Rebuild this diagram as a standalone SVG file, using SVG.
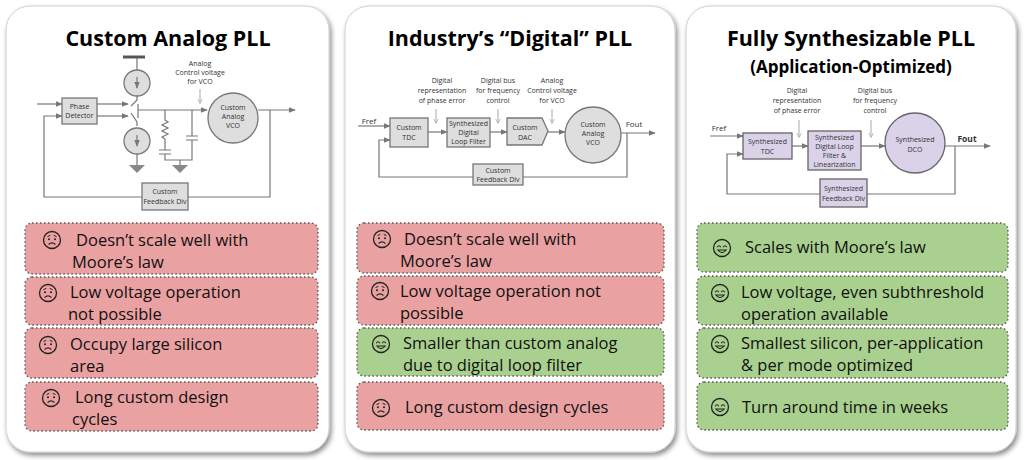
<svg xmlns="http://www.w3.org/2000/svg" width="1024" height="460" viewBox="0 0 1024 460">
<defs>
<filter id="sh" x="-5%" y="-5%" width="115%" height="115%"><feDropShadow dx="2" dy="3" stdDeviation="2.5" flood-color="#000" flood-opacity="0.45"/></filter>
<marker id="ar" viewBox="0 0 10 10" refX="9" refY="5" markerWidth="6" markerHeight="6" orient="auto"><path d="M0,1 L10,5 L0,9 z" fill="#777"/></marker>
<marker id="ar2" viewBox="0 0 10 10" refX="9" refY="5" markerWidth="5" markerHeight="7" orient="auto"><path d="M0,0 L10,5 L0,10" fill="none" stroke="#aaa" stroke-width="1.5"/></marker>
<g id="frown"><circle r="8.5" fill="none" stroke="#222" stroke-width="1.3"/><path d="M-4.5,-3.4 l2.8,-1.3 M4.5,-3.4 l-2.8,-1.3" stroke="#222" stroke-width="1"/><circle cx="-3" cy="-0.8" r="1" fill="#222"/><circle cx="3" cy="-0.8" r="1" fill="#222"/><path d="M-3.4,4.5 Q0,1.4 3.4,4.5" fill="none" stroke="#222" stroke-width="1.2"/></g>
<g id="smile"><circle r="8.5" fill="none" stroke="#222" stroke-width="1.3"/><path d="M-4.8,-0.8 Q-3,-3.8 -1.2,-0.8 M1.2,-0.8 Q3,-3.8 4.8,-0.8" fill="none" stroke="#222" stroke-width="1.1"/><path d="M-4.2,2 Q0,7.2 4.2,2 Z" fill="none" stroke="#222" stroke-width="1.1"/></g>
</defs>
<style>
.panel{fill:#fff;stroke:#d0d0d0;stroke-width:1}
.title{font-family:"Open Sans","Liberation Sans",sans-serif;font-weight:bold;font-size:21.5px;fill:#000;text-anchor:middle}
.sub{font-size:17px}
.bad{fill:#eaa1a1;stroke:#555;stroke-width:1.3;stroke-dasharray:1.5 2.5}
.good{fill:#a9d08e;stroke:#555;stroke-width:1.3;stroke-dasharray:1.5 2.5}
.t{font-family:"Open Sans","Liberation Sans",sans-serif;font-size:16.5px;fill:#111}
.s{font-family:"Open Sans","Liberation Sans",sans-serif;font-size:7px;fill:#333;text-anchor:middle}
.blk{fill:#dedede;stroke:#777;stroke-width:1.3}
.blkp{fill:#d9d2e9;stroke:#666;stroke-width:1.3}
.w{fill:none;stroke:#777;stroke-width:1.2}
.an{stroke:#aaa;stroke-width:1}
</style>

<g id="panels">
<rect class="panel" x="6" y="6" width="323" height="446" rx="24" filter="url(#sh)"/>
<rect class="panel" x="345" y="6" width="330" height="446" rx="24" filter="url(#sh)"/>
<rect class="panel" x="686" y="6" width="330" height="446" rx="24" filter="url(#sh)"/>
</g>

<g id="titles">
<text class="title" x="168" y="46">Custom Analog PLL</text>
<text class="title" x="510" y="46">Industry’s “Digital” PLL</text>
<text class="title" x="851" y="46">Fully Synthesizable PLL</text>
<text class="title sub" x="851" y="73">(Application-Optimized)</text>
</g>

<g id="left-diagram">
<g id="connectors-left">
<line class="w" x1="37" y1="104" x2="62" y2="104" marker-end="url(#ar)"/>
<path class="w" d="M270,110 V197 H44 V116 H62" marker-end="url(#ar)"/>
<line class="w" x1="97" y1="104" x2="128" y2="104" marker-end="url(#ar)"/>
<line class="w" x1="97" y1="116" x2="128" y2="116" marker-end="url(#ar)"/>
<path class="w" d="M137,96 V100 L131,106 M137,126 V122 L131,113"/>
<path class="w" d="M138,104 V118 M138,110 H207" marker-end="url(#ar)"/>
<line class="w" x1="258" y1="110" x2="295" y2="110" marker-end="url(#ar)"/>
<path class="w" d="M137,57 V70"/>
<line x1="123" y1="57" x2="145" y2="57" stroke="#555" stroke-width="3"/>
<line class="w" x1="137" y1="154" x2="137" y2="165"/>
<path class="w" d="M165,110 V120 l3,2 l-6,3 l6,3 l-6,3 l6,3 l-6,3 l3,2 V150 M159,150 H171 M159,154 H171 M165,154 V160 H192 V140 M186,140 H198 M186,136 H198 M192,136 V110"/>
<line class="w" x1="180" y1="160" x2="180" y2="165"/>
<path d="M129,165 H145 L137,173 Z" fill="#888"/>
<path d="M172,165 H188 L180,173 Z" fill="#888"/>
<line class="an" x1="200" y1="89" x2="200" y2="103" marker-end="url(#ar2)"/>
</g>
<g id="l-ph"><rect class="blk" x="62" y="98" width="35" height="26"/><text class="s" x="79.5" y="109">Phase</text><text class="s" x="79.5" y="118">Detector</text></g>
<g id="l-cs1"><circle class="blk" cx="137" cy="83" r="13"/><path class="w" d="M137,77 V88" marker-end="url(#ar)"/></g>
<g id="l-cs2"><circle class="blk" cx="137" cy="141" r="13"/><path class="w" d="M137,135 V146" marker-end="url(#ar)"/></g>
<g id="l-vco"><circle class="blk" cx="233" cy="118" r="25"/><text class="s" x="233" y="110">Custom</text><text class="s" x="233" y="119">Analog</text><text class="s" x="233" y="128">VCO</text></g>
<g id="l-fb"><rect class="blk" x="142" y="183" width="46" height="27"/><text class="s" x="165" y="194">Custom</text><text class="s" x="165" y="204">Feedback Div</text></g>
<text class="s" x="200" y="66">Analog</text><text class="s" x="200" y="75">Control voltage</text><text class="s" x="200" y="84">for VCO</text>
</g>

<g id="mid-diagram">
<g id="connectors-mid">
<line class="w" x1="358" y1="126" x2="390" y2="126" marker-end="url(#ar)"/>
<line class="w" x1="428" y1="132" x2="447" y2="132" marker-end="url(#ar)"/>
<line class="w" x1="490" y1="132" x2="507" y2="132" marker-end="url(#ar)"/>
<line class="w" x1="548" y1="132" x2="565" y2="132" marker-end="url(#ar)"/>
<line class="w" x1="621" y1="133" x2="655" y2="133" marker-end="url(#ar)"/>
<path class="w" d="M627,133 V177 H379 V140 H390" marker-end="url(#ar)"/>
<line class="an" x1="436" y1="109" x2="436" y2="123" marker-end="url(#ar2)"/>
<line class="an" x1="498" y1="109" x2="498" y2="123" marker-end="url(#ar2)"/>
<line class="an" x1="552" y1="109" x2="552" y2="123" marker-end="url(#ar2)"/>
</g>
<text class="s" x="369" y="124" style="font-size:8px">Fref</text>
<text class="s" x="634" y="127" style="font-size:8px">Fout</text>
<g id="m-tdc"><rect class="blk" x="390" y="118" width="38" height="29"/><text class="s" x="409" y="130">Custom</text><text class="s" x="409" y="140">TDC</text></g>
<g id="m-lf"><rect class="blk" x="447" y="118" width="43" height="29"/><text class="s" x="468.5" y="126">Synthesized</text><text class="s" x="468.5" y="135">Digital</text><text class="s" x="468.5" y="144">Loop Filter</text></g>
<g id="m-dac"><path class="blk" d="M507,118 H542 L548,131 L542,145 H507 Z"/><text class="s" x="525" y="130">Custom</text><text class="s" x="525" y="140">DAC</text></g>
<g id="m-vco"><circle class="blk" cx="593" cy="135" r="28"/><text class="s" x="593" y="127">Custom</text><text class="s" x="593" y="136">Analog</text><text class="s" x="593" y="145">VCO</text></g>
<g id="m-fb"><rect class="blk" x="473" y="164" width="50" height="21"/><text class="s" x="498" y="173">Custom</text><text class="s" x="498" y="182">Feedback Div</text></g>
<text class="s" x="442" y="83">Digital</text><text class="s" x="442" y="93">representation</text><text class="s" x="442" y="103">of phase error</text>
<text class="s" x="498" y="83">Digital bus</text><text class="s" x="498" y="93">for frequency</text><text class="s" x="498" y="103">control</text>
<text class="s" x="552" y="83">Analog</text><text class="s" x="552" y="93">Control voltage</text><text class="s" x="552" y="103">for VCO</text>
</g>

<g id="right-diagram">
<g id="connectors-right">
<line class="w" x1="710" y1="136" x2="743" y2="136" marker-end="url(#ar)"/>
<line class="w" x1="792" y1="146" x2="808" y2="146" marker-end="url(#ar)"/>
<line class="w" x1="861" y1="146" x2="885" y2="146" marker-end="url(#ar)"/>
<line class="w" x1="945" y1="146" x2="990" y2="146" marker-end="url(#ar)"/>
<path class="w" d="M955,146 V194 H727 V154 H743" marker-end="url(#ar)"/>
<line class="an" x1="799" y1="120" x2="799" y2="137" marker-end="url(#ar2)"/>
<line class="an" x1="871" y1="120" x2="871" y2="137" marker-end="url(#ar2)"/>
</g>
<text class="s" x="719" y="131" style="font-size:8px">Fref</text>
<text class="s" x="967" y="142" style="font-size:8.5px;font-weight:bold">Fout</text>
<g id="r-tdc"><rect class="blkp" x="743" y="133" width="49" height="26"/><text class="s" x="767.5" y="144">Synthesized</text><text class="s" x="767.5" y="154">TDC</text></g>
<g id="r-lf"><rect class="blkp" x="808" y="131" width="53" height="39"/><text class="s" x="834.5" y="140">Synthesized</text><text class="s" x="834.5" y="149">Digital Loop</text><text class="s" x="834.5" y="158">Filter &amp;</text><text class="s" x="834.5" y="167">Linearization</text></g>
<g id="r-dco"><circle class="blkp" cx="915" cy="143" r="30"/><text class="s" x="915" y="142">Synthesized</text><text class="s" x="915" y="152">DCO</text></g>
<g id="r-fb"><rect class="blkp" x="820" y="179" width="47" height="28"/><text class="s" x="843.5" y="191">Synthesized</text><text class="s" x="843.5" y="201">Feedback Div</text></g>
<text class="s" x="797" y="93">Digital</text><text class="s" x="797" y="103">representation</text><text class="s" x="797" y="113">of phase error</text>
<text class="s" x="875" y="93">Digital bus</text><text class="s" x="875" y="103">for frequency</text><text class="s" x="875" y="113">control</text>
</g>

<g id="l-b1"><rect class="bad" x="25" y="223" width="293" height="51" rx="7"/><use href="#frown" x="52" y="240"/><text class="t" x="76" y="246">Doesn’t scale well with</text><text class="t" x="72" y="268">Moore’s law</text></g>
<g id="l-b2"><rect class="bad" x="25" y="277" width="293" height="48" rx="7"/><use href="#frown" x="48" y="293"/><text class="t" x="70" y="298">Low voltage operation</text><text class="t" x="68" y="320">not possible</text></g>
<g id="l-b3"><rect class="bad" x="25" y="328" width="293" height="50" rx="7"/><use href="#frown" x="48" y="345"/><text class="t" x="70" y="350">Occupy large silicon</text><text class="t" x="70" y="372">area</text></g>
<g id="l-b4"><rect class="bad" x="25" y="382" width="293" height="49" rx="7"/><use href="#frown" x="51" y="398"/><text class="t" x="75" y="403">Long custom design</text><text class="t" x="72" y="425">cycles</text></g>

<g id="m-b1"><rect class="bad" x="357" y="223" width="307" height="50" rx="7"/><use href="#frown" x="382" y="239"/><text class="t" x="404" y="245">Doesn’t scale well with</text><text class="t" x="400" y="267">Moore’s law</text></g>
<g id="m-b2"><rect class="bad" x="357" y="276" width="307" height="49" rx="7"/><use href="#frown" x="380" y="291"/><text class="t" x="400" y="297">Low voltage operation not</text><text class="t" x="400" y="319">possible</text></g>
<g id="m-b3"><rect class="good" x="357" y="328" width="307" height="48" rx="7"/><use href="#smile" x="381" y="344"/><text class="t" x="403" y="349">Smaller than custom analog</text><text class="t" x="403" y="371">due to digital loop filter</text></g>
<g id="m-b4"><rect class="bad" x="357" y="382" width="307" height="48" rx="7"/><use href="#frown" x="381" y="408"/><text class="t" x="405" y="413">Long custom design cycles</text></g>

<g id="r-b1"><rect class="good" x="697" y="223" width="311" height="49" rx="7"/><use href="#smile" x="722" y="248"/><text class="t" x="745" y="253">Scales with Moore’s law</text></g>
<g id="r-b2"><rect class="good" x="697" y="276" width="311" height="49" rx="7"/><use href="#smile" x="720" y="293"/><text class="t" x="741" y="298">Low voltage, even subthreshold</text><text class="t" x="741" y="320">operation available</text></g>
<g id="r-b3"><rect class="good" x="697" y="328" width="311" height="50" rx="7"/><use href="#smile" x="720" y="344"/><text class="t" x="741" y="349">Smallest silicon, per-application</text><text class="t" x="741" y="371">&amp; per mode optimized</text></g>
<g id="r-b4"><rect class="good" x="697" y="382" width="311" height="48" rx="7"/><use href="#smile" x="720" y="407"/><text class="t" x="742" y="413">Turn around time in weeks</text></g>
</svg>
